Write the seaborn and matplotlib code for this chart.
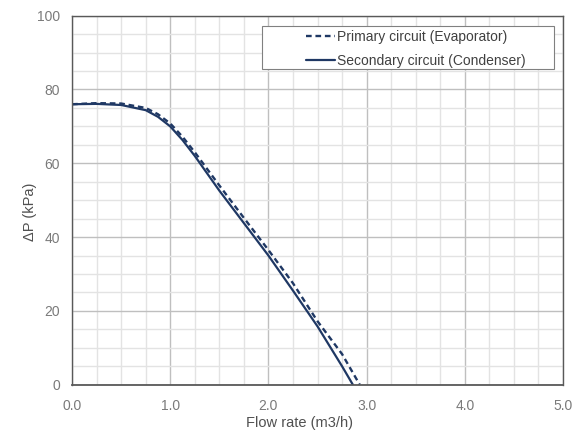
import numpy as np
import pandas as pd
import matplotlib
matplotlib.use("Agg")
import matplotlib.pyplot as plt
from matplotlib.patches import Rectangle
from matplotlib.ticker import MultipleLocator, FormatStrFormatter
import seaborn as sns

# ── Data ─────────────────────────────────────────────────────────────────────
flow_primary = [0.0, 0.25, 0.5, 0.75, 0.875, 1.0, 1.125, 1.25, 1.5, 1.75, 2.0, 2.25, 2.5, 2.75, 2.93]
dp_primary   = [76.0, 76.3, 76.2, 75.0, 73.3, 70.8, 67.2, 63.0, 54.0, 45.2, 36.5, 27.5, 17.2, 8.3, 0.0]

flow_secondary = [0.0, 0.25, 0.5, 0.75, 0.875, 1.0, 1.125, 1.25, 1.5, 1.75, 2.0, 2.25, 2.5, 2.75, 2.86]
dp_secondary   = [76.0, 76.1, 75.8, 74.4, 72.6, 70.0, 66.3, 62.0, 52.6, 43.8, 35.0, 25.5, 15.8, 5.0, 0.0]

label_primary = "Primary circuit (Evaporator)"
label_secondary = "Secondary circuit (Condenser)"

df_p = pd.DataFrame({"flow": flow_primary, "dp": dp_primary})
df_s = pd.DataFrame({"flow": flow_secondary, "dp": dp_secondary})

# ── Style ────────────────────────────────────────────────────────────────────
sns.set_style("white")
plt.rcParams["font.family"] = ["Liberation Sans", "DejaVu Sans"]

LINE = "#1f3864"
TICK = "#7a7a7a"
LABEL = "#505050"

fig = plt.figure(figsize=(5.87, 4.32), dpi=100)
ax = fig.add_axes([0.1227, 0.1095, 0.8364, 0.8542])

sns.lineplot(data=df_p, x="flow", y="dp", ax=ax, color=LINE, linewidth=1.7,
             linestyle=(0, (2.4, 1.6)), label=label_primary, sort=False)
sns.lineplot(data=df_s, x="flow", y="dp", ax=ax, color=LINE, linewidth=1.6,
             label=label_secondary, sort=False)

ax.set_xlim(0, 5)
ax.set_ylim(0, 100)
ax.xaxis.set_major_locator(MultipleLocator(1.0))
ax.xaxis.set_minor_locator(MultipleLocator(0.25))
ax.yaxis.set_major_locator(MultipleLocator(20))
ax.yaxis.set_minor_locator(MultipleLocator(5))
ax.xaxis.set_major_formatter(FormatStrFormatter("%.1f"))

ax.grid(which="major", color="#bfbfbf", linewidth=1.0)
ax.grid(which="minor", color="#e3e3e3", linewidth=1.0)
ax.set_axisbelow(True)

for sp in ax.spines.values():
    sp.set_color("#595959")
    sp.set_linewidth(1.0)
ax.spines["bottom"].set_linewidth(1.3)

ax.tick_params(which="both", length=0, labelsize=10, colors=TICK)
ax.tick_params(axis="y", pad=8.5)
ax.tick_params(axis="x", pad=10)

ax.set_xlabel("Flow rate (m3/h)", fontsize=10.5, color=LABEL)
ax.set_ylabel("ΔP (kPa)", fontsize=10.5, color=LABEL)
ax.xaxis.set_label_coords(0.464, -0.085)
ax.yaxis.set_label_coords(-0.072, 0.468)

# legend frame drawn as a fixed box like the original
ax.add_patch(Rectangle((0.3876, 0.8547), 0.5941, 0.1182, transform=ax.transAxes,
                       facecolor="white", edgecolor="#808080", linewidth=0.8, zorder=4))
leg = ax.legend(loc="center left", bbox_to_anchor=(0.4766, 0.910), fontsize=10,
                frameon=False, handlelength=2.1, handletextpad=0.15, borderpad=0,
                labelspacing=0.75, borderaxespad=0)
leg.set_zorder(5)
for t in leg.get_texts():
    t.set_color("#404040")

fig.savefig("out.png", dpi=100, facecolor="white")
